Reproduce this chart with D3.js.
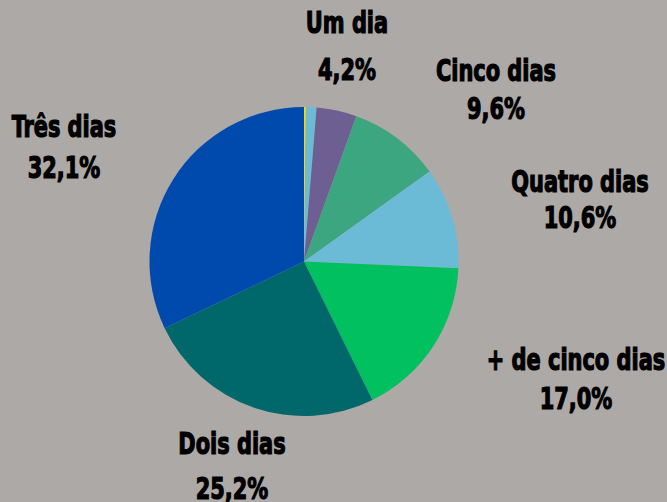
<!DOCTYPE html>
<html>
<head>
<meta charset="utf-8">
<script src="https://cdn.jsdelivr.net/npm/d3@7"></script>
<style>
  html, body { margin: 0; padding: 0; background: #ada9a7; }
  svg { display: block; }
  .lbl { font-family: "Liberation Sans Narrow", "DejaVu Sans Condensed", sans-serif; font-weight: bold; font-size: 31px; fill: #000; stroke: #000; stroke-width: 1.2px; }
</style>
</head>
<body>
<svg id="chart" width="667" height="502"></svg>
<script>
// slices, clockwise from 12 o'clock
var categories = ["", "", "Um dia", "Cinco dias", "Quatro dias", "+ de cinco dias", "Dois dias", "Três dias"];
var values = [0.2, 1.1, 4.2, 9.6, 10.6, 17.0, 25.2, 32.1];
var percentLabels = ["", "", "4,2%", "9,6%", "10,6%", "17,0%", "25,2%", "32,1%"];
var colors = ["#ffd400", "#6cbbd6", "#6e5f93", "#3ba67f", "#6cbbd6", "#00c060", "#00676b", "#004aad"];

// where each label sits (center x, first line baseline, second line baseline)
var labelPos = [null, null, [347, 33, 80], [496, 81, 119], [580, 192, 228], [576, 370, 409], [232, 454, 499], [64, 137, 178]];

var cx = 304, cy = 261.5, radius = 154.5;
var squeeze = 0.75; // the original face is much narrower, squash ours to match

var svg = d3.select('#chart');

var pie = d3.pie().sort(null).value(function(d){ return d; });
var arc = d3.arc().innerRadius(0).outerRadius(radius);

var g = svg.append('g').attr('transform', 'translate(' + cx + ',' + cy + ')');

g.selectAll('path')
  .data(pie(values))
  .enter()
  .append('path')
  .attr('d', arc)
  .attr('fill', function(d, i){ return colors[i]; });

//----------------------labels--------------------------
categories.forEach(function(c, i){
  if (!c) return;
  var p = labelPos[i];
  var t = svg.append('text').attr('class', 'lbl').attr('text-anchor', 'middle')
    .attr('transform', 'translate(' + p[0] + ',0) scale(' + squeeze + ',1)');
  t.append('tspan').attr('x', 0).attr('y', p[1]).text(c);
  t.append('tspan').attr('x', 0).attr('y', p[2]).text(percentLabels[i]);
});
</script>
</body>
</html>
